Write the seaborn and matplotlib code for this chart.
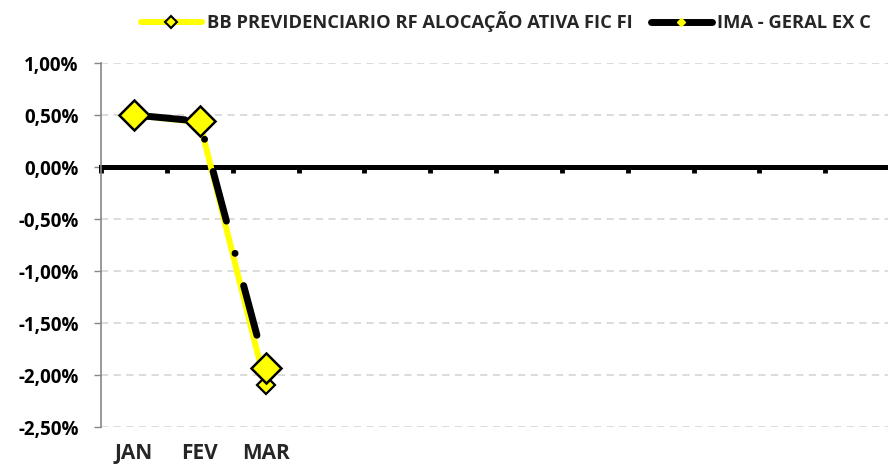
import numpy as np
import pandas as pd
import seaborn as sns
import matplotlib.pyplot as plt
from matplotlib.lines import Line2D
from matplotlib.ticker import FuncFormatter

# Monthly returns (%)
months = ["JAN", "FEV", "MAR"]
bb_prev = [0.50, 0.43, -2.10]
ima_geral = [0.50, 0.44, -1.93]
n_slots = 12  # the axis reserves room for the whole year

bb_name = "BB PREVIDENCIARIO RF ALOCAÇÃO ATIVA FIC FI"
ima_name = "IMA - GERAL EX C"

df = pd.DataFrame({"pos": np.arange(len(months)), "mes": months,
                   "bb": bb_prev, "ima": ima_geral})

sns.set_theme(style="white")
plt.rcParams["font.family"] = ["Open Sans", "DejaVu Sans"]
plt.rcParams["font.weight"] = "bold"

fig = plt.figure(figsize=(8.88, 4.73), dpi=100)
ax = fig.add_axes([101 / 888, 46 / 473, 790 / 888, 364 / 473])

yellow = "#FFFF00"

# yellow series first, black dash-dot series on top
sns.lineplot(data=df, x="pos", y="bb", ax=ax, color=yellow, lw=4.3,
             marker="D", markersize=9, markerfacecolor=yellow,
             markeredgecolor="black", markeredgewidth=1.6,
             solid_capstyle="round")
sns.lineplot(data=df, x="pos", y="ima", ax=ax, color="black", lw=5,
             linestyle=(0, (7.4, 4.8, 0.01, 4.8)), dash_capstyle="round",
             marker="D", markersize=15, markerfacecolor=yellow,
             markeredgecolor="black", markeredgewidth=1.8)

ax.set_xlim(-0.5, n_slots - 0.5)
ax.set_ylim(-2.5, 1.0)
ax.set_xlabel("")
ax.set_ylabel("")

# y axis
ax.set_yticks(np.arange(-2.5, 1.01, 0.5))
ax.yaxis.set_major_formatter(FuncFormatter(lambda v, p: f"{v:.2f}%".replace(".", ",")))
ax.tick_params(axis="y", left=True, length=5, width=1, color="#868686",
               labelsize=13.5, pad=11, labelcolor="black")
ax.yaxis.grid(True, color="#D9D9D9", lw=1.3, linestyle=(0, (4, 3)))
ax.spines["left"].set_color("#868686")
ax.spines["left"].set_linewidth(1.2)
ax.spines["top"].set_visible(False)
ax.spines["right"].set_visible(False)

# x axis crosses at zero, ticks between categories
ax.spines["bottom"].set_position(("data", 0))
ax.spines["bottom"].set_linewidth(3.6)
ax.spines["bottom"].set_color("black")
ax.spines["bottom"].set_zorder(1.5)
ax.set_xticks(np.arange(-0.5, n_slots, 1.0))
ax.set_xticklabels([])
ax.tick_params(axis="x", bottom=True, direction="out", length=4, width=3.5,
               color="black")

# month labels sit below the plot area
for i, m in enumerate(df["mes"]):
    ax.text(df["pos"][i], -0.072, m, transform=ax.get_xaxis_transform(),
            ha="center", va="center", fontsize=15, fontweight="bold")

handles = [
    Line2D([], [], color=yellow, lw=4.3, solid_capstyle="round", marker="D",
           markersize=6, markerfacecolor=yellow, markeredgecolor="black",
           markeredgewidth=1.5),
    Line2D([], [], color="black", lw=5, solid_capstyle="round", marker="D",
           markersize=4, markerfacecolor=yellow, markeredgecolor=yellow),
]
fig.legend(handles, [bb_name, ima_name], loc="center", ncol=2,
           bbox_to_anchor=(506 / 888, 1 - 22 / 473), frameon=False,
           handlelength=3.3, handletextpad=0.3, columnspacing=1.0,
           prop={"weight": "bold", "size": 13.2})

fig.savefig("out.png", dpi=100)
